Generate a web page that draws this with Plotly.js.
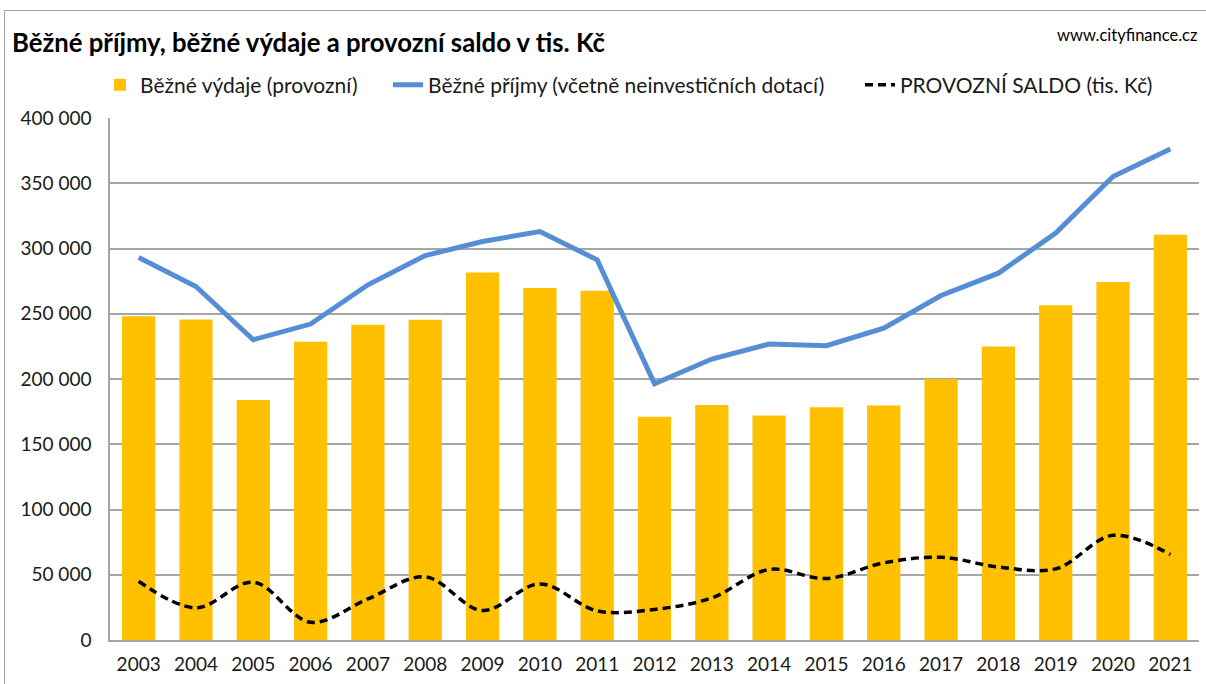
<!DOCTYPE html>
<html>
<head>
<meta charset="utf-8">
<script src="https://cdn.plot.ly/plotly-3.0.1.min.js"></script>
<style>
  html, body { margin: 0; padding: 0; background: #fff; }
  #frame { position: absolute; left: 4px; top: 10px; width: 1210px; height: 690px; border: 1px solid #a6a6a6; box-sizing: border-box; }
  #chart { position: absolute; left: 0; top: 0; width: 1206px; height: 684px; }
</style>
</head>
<body>
<div id="frame"></div>
<div id="chart"></div>
<script>
const years = ['2003','2004','2005','2006','2007','2008','2009','2010','2011','2012','2013','2014','2015','2016','2017','2018','2019','2020','2021'];
const vydaje = [248000, 245500, 184000, 228600, 241600, 245400, 281600, 269700, 267600, 171100, 180100, 172000, 178300, 179600, 200000, 225000, 256600, 274300, 310500];
const prijmy = [293100, 270900, 230100, 242100, 272200, 294600, 305400, 313000, 291300, 196400, 215300, 226800, 225500, 239000, 264000, 281100, 311800, 355100, 376300];
const saldo = [45000, 24600, 44300, 13600, 31500, 48400, 22600, 43000, 22300, 23400, 32300, 54000, 47100, 59100, 63400, 56000, 54500, 80200, 65500];
const yTicks = [0, 50000, 100000, 150000, 200000, 250000, 300000, 350000, 400000];

const FONT = 'Lato, "Liberation Sans", Arial, sans-serif';
const W = 1206, H = 684, L = 110, R = 7, T = 118, B = 44;
const pw = W - L - R, ph = H - T - B;
const px = x => (x - L) / pw;
const py = y => (H - B - y) / ph;

const traces = [
  { type: 'bar', x: years, y: vydaje, name: 'Běžné výdaje (provozní)', marker: { color: '#FFC000' }, legend: 'legend' },
  { type: 'scatter', mode: 'lines', x: years, y: prijmy, name: 'Běžné příjmy (včetně neinvestičních dotací)', line: { color: 'rgb(85,142,213)', width: 5 }, legend: 'legend2' },
  { type: 'scatter', mode: 'lines', x: years, y: saldo, name: 'PROVOZNÍ SALDO (tis. Kč)', line: { color: '#000', width: 3.5, dash: '8px,5px', shape: 'spline', smoothing: 1 }, legend: 'legend3' }
];

const legBase = { orientation: 'h', yanchor: 'middle', xanchor: 'left', y: py(85), font: { family: FONT, size: 21, color: '#1a1a1a' }, bgcolor: 'rgba(0,0,0,0)', tracegroupgap: 0 };

const layout = {
  width: W, height: H,
  margin: { l: L, r: R, t: T, b: B },
  paper_bgcolor: 'rgba(0,0,0,0)', plot_bgcolor: '#fff',
  separators: ', ',
  bargap: 0.42,
  font: { family: FONT, color: '#1a1a1a' },
  title: { text: '<b>Běžné příjmy, běžné výdaje a provozní saldo v tis. Kč</b>', xref: 'container', yref: 'container', x: 12 / W, xanchor: 'left', y: 1 - 43 / H, yanchor: 'middle', font: { family: FONT, size: 25.7, color: '#000' } },
  xaxis: { type: 'category', showgrid: false, showline: true, linecolor: '#a6a6a6', linewidth: 1.5, ticks: '', tickfont: { family: FONT, size: 19, color: '#1a1a1a' }, ticklabelstandoff: 6 },
  yaxis: { range: [0, 400000], tickvals: yTicks, tickformat: ',d', showgrid: true, gridcolor: '#a6a6a6', gridwidth: 1.5, showline: true, linecolor: '#a6a6a6', linewidth: 1.5, zeroline: false, ticks: '', tickfont: { family: FONT, size: 19, color: '#1a1a1a' }, ticklabelstandoff: 13 },
  showlegend: true,
  legend: Object.assign({}, legBase, { x: px(100) }),
  legend2: Object.assign({}, legBase, { x: px(388) }),
  legend3: Object.assign({}, legBase, { x: px(860) }),
  annotations: [
    { text: 'www.cityfinance.cz', xref: 'paper', yref: 'paper', x: px(1199), xanchor: 'right', y: py(35), yanchor: 'middle', showarrow: false, font: { family: FONT, size: 16.5, color: '#000' } }
  ]
};

Plotly.newPlot('chart', traces, layout, { displayModeBar: false, responsive: false });
</script>
</body>
</html>
